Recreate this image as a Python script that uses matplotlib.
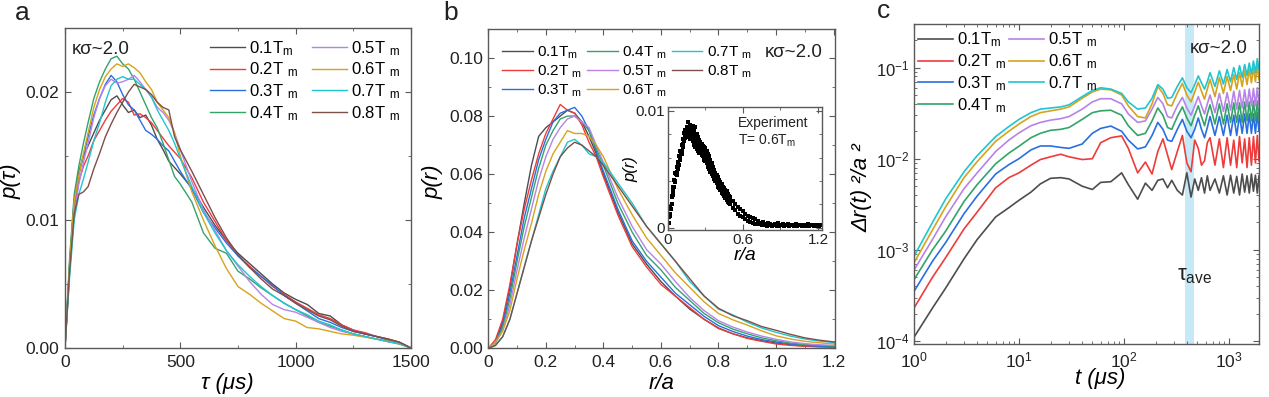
import numpy as np
import matplotlib
matplotlib.use("Agg")
import matplotlib.pyplot as plt
from matplotlib.ticker import MultipleLocator, LogLocator, NullFormatter

# ------------------------------ Config ------------------------------

plt.rcParams.update({
    "font.family": ["Liberation Sans", "DejaVu Sans"],
    "font.size": 12,
    "mathtext.fontset": "custom",
    "mathtext.rm": "Liberation Sans",
    "mathtext.it": "Liberation Sans:italic",
    "mathtext.bf": "Liberation Sans:bold",
    "axes.edgecolor": "#5a5a5a",
    "axes.linewidth": 1.0,
    "xtick.direction": "in",
    "ytick.direction": "in",
    "xtick.top": True,
    "ytick.right": True,
    "xtick.major.size": 4,
    "ytick.major.size": 4,
    "xtick.minor.size": 2.5,
    "ytick.minor.size": 2.5,
    "xtick.color": "#5a5a5a",
    "ytick.color": "#5a5a5a",
    "xtick.labelcolor": "#222222",
    "ytick.labelcolor": "#222222",
    "xtick.labelsize": 12.5,
    "ytick.labelsize": 12.5,
    "xtick.major.pad": 5,
    "ytick.major.pad": 4,
})

COLORS = ["#4d4d4d", "#ee3b3b", "#2a6fe0", "#34a36a",
          "#b783e8", "#d6a31c", "#1fc6cf", "#7d4f49"]
TEMPS = ["0.1", "0.2", "0.3", "0.4", "0.5", "0.6", "0.7", "0.8"]
LABELS = ["0.1T$_\\mathrm{m}$"] + [t + "T $_\\mathrm{m}$" for t in TEMPS[1:]]

# --------------------- panel a: p(tau) ------------------------------

TAU = [0, 20, 40, 60, 80, 100, 125, 150, 175, 200, 225, 250, 275, 300, 325,
       350, 375, 400, 425, 450, 475, 500, 550, 600, 650, 700, 750, 800, 850,
       900, 950, 1000, 1050, 1100, 1150, 1200, 1250, 1300, 1350, 1400, 1450, 1500]

# values in units of 1e-3
PTAU_01 = [0, 6.5, 11.5, 13.8, 15.0, 15.8, 16.8, 17.8, 18.6, 19.4, 19.7, 19.0, 18.4, 18.6, 18.0,
           18.2, 17.4, 16.3, 15.5, 14.6, 14.1, 13.6, 12.5, 11.0, 9.6, 8.4, 7.4, 6.6, 5.8,
           5.0, 4.3, 3.8, 3.4, 2.7, 2.5, 1.8, 1.4, 1.1, 0.9, 0.7, 0.45, 0]
PTAU_02 = [0, 6.0, 10.8, 13.0, 14.2, 15.0, 16.2, 17.0, 17.8, 18.5, 19.0, 19.5, 19.2, 18.2, 18.3,
           18.0, 17.6, 17.0, 16.4, 15.8, 15.3, 14.8, 13.3, 11.4, 9.9, 8.4, 7.2, 6.4, 5.6,
           4.8, 4.2, 3.6, 3.1, 2.6, 2.3, 1.8, 1.4, 1.2, 0.9, 0.7, 0.45, 0]
PTAU_03 = [0, 6.5, 11.5, 13.5, 15.0, 16.5, 18.2, 19.5, 20.6, 21.3, 20.8, 19.8, 19.0, 18.6, 17.8,
           17.0, 16.7, 16.3, 15.8, 15.4, 14.6, 13.8, 12.4, 10.6, 9.4, 8.2, 7.2, 6.3, 5.6,
           4.9, 4.1, 3.5, 2.9, 2.3, 2.0, 1.6, 1.3, 1.1, 0.9, 0.6, 0.4, 0]
PTAU_04 = [0, 7.0, 12.0, 14.2, 16.0, 17.6, 19.5, 20.8, 21.8, 22.6, 22.8, 22.2, 21.8, 21.0, 20.0,
           19.0, 18.0, 17.2, 16.0, 14.7, 13.4, 12.8, 11.4, 9.0, 7.8, 7.4, 6.0, 5.4, 4.7,
           4.1, 3.5, 3.0, 2.5, 2.0, 1.7, 1.4, 1.1, 0.9, 0.7, 0.5, 0.3, 0]
PTAU_05 = [0, 6.0, 10.5, 12.8, 14.5, 16.0, 18.0, 19.5, 20.5, 21.0, 20.7, 20.8, 21.0, 21.3, 20.8,
           20.2, 19.6, 18.8, 18.4, 17.8, 16.8, 15.5, 13.0, 10.8, 9.2, 7.6, 6.4, 5.2, 4.2,
           3.4, 3.0, 2.8, 2.4, 2.0, 1.6, 1.3, 1.1, 0.9, 0.7, 0.5, 0.35, 0]
PTAU_06 = [0, 6.5, 11.5, 13.5, 15.2, 16.8, 18.8, 20.2, 21.2, 21.8, 22.2, 22.0, 22.2, 21.9, 21.5,
           20.8, 20.2, 19.2, 18.6, 18.0, 16.8, 15.0, 12.2, 10.0, 8.0, 6.2, 4.8, 4.2, 3.5,
           2.9, 2.3, 2.1, 1.6, 1.5, 1.3, 1.1, 1.0, 0.85, 0.7, 0.55, 0.35, 0]
PTAU_07 = [0, 5.5, 10.0, 12.0, 13.2, 14.5, 16.2, 17.6, 19.2, 20.5, 21.0, 21.2, 21.0, 21.0, 20.6,
           20.2, 19.6, 18.6, 17.8, 17.0, 16.0, 14.8, 12.6, 10.6, 9.0, 7.6, 6.5, 5.6, 4.8,
           4.1, 3.5, 3.0, 2.6, 2.1, 1.8, 1.4, 1.1, 0.9, 0.7, 0.5, 0.35, 0]
PTAU_08 = [0, 6.0, 10.5, 12.0, 12.2, 12.6, 14.0, 15.2, 16.5, 17.5, 18.4, 19.2, 20.0, 20.6, 20.4,
           20.2, 19.8, 19.2, 18.8, 18.6, 16.5, 15.5, 13.8, 12.0, 10.2, 8.6, 7.3, 6.3, 5.4,
           4.6, 4.1, 3.5, 3.0, 2.5, 2.2, 1.7, 1.3, 1.1, 0.9, 0.7, 0.45, 0]

# --------------------- panel b: p(r) --------------------------------

R = [0, 0.025, 0.05, 0.075, 0.1, 0.125, 0.15, 0.175, 0.2, 0.225, 0.25, 0.275, 0.3,
     0.325, 0.35, 0.375, 0.4, 0.45, 0.5, 0.55, 0.6, 0.65, 0.7, 0.75, 0.8, 0.85,
     0.9, 0.95, 1.0, 1.05, 1.1, 1.15, 1.2, 1.205]

PR_01 = [0, .002, .009, .021, .036, .050, .063, .073, .076, .078, .080, .082, .081,
         .078, .073, .067, .060, .047, .036, .029, .023, .018, .0135, .0100, .0070, .0050,
         .0036, .0026, .0018, .0012, .0008, .0006, .0005, .0005]
PR_02 = [0, .003, .010, .022, .036, .048, .058, .067, .074, .079, .084, .082, .081,
         .077, .071, .066, .059, .046, .035, .028, .022, .018, .014, .0100, .0068, .0050,
         .0034, .0024, .0015, .0010, .0007, .0005, .0004, .0004]
PR_03 = [0, .002, .008, .019, .032, .045, .055, .065, .072, .078, .081, .082, .083,
         .080, .075, .068, .061, .048, .037, .030, .0245, .019, .015, .011, .0078, .0058,
         .0042, .0030, .0022, .0015, .0010, .0007, .0005, .0005]
PR_04 = [0, .002, .007, .017, .030, .042, .052, .062, .070, .075, .079, .080, .080,
         .078, .075, .069, .063, .050, .040, .032, .027, .021, .0165, .012, .0088, .0066,
         .0050, .0036, .0026, .0018, .0013, .0010, .0008, .0008]
PR_05 = [0, .002, .006, .015, .027, .038, .048, .058, .066, .072, .076, .079, .080,
         .078, .076, .070, .064, .052, .042, .034, .029, .023, .0175, .013, .0095, .0073,
         .0056, .0042, .0031, .0022, .0016, .0012, .0010, .0010]
PR_06 = [0, .002, .006, .013, .024, .034, .043, .053, .061, .067, .071, .075, .074,
         .074, .073, .070, .066, .055, .046, .038, .032, .026, .021, .016, .012, .0098,
         .0080, .0060, .0043, .0032, .0024, .0019, .0015, .0015]
PR_07 = [0, .001, .004, .010, .019, .028, .037, .046, .055, .061, .066, .071, .072,
         .070, .067, .066, .064, .057, .050, .042, .036, .030, .023, .018, .0135, .0115,
         .0090, .0070, .0055, .0042, .0032, .0025, .0020, .0020]
PR_08 = [0, .001, .004, .010, .019, .028, .037, .045, .053, .060, .066, .069, .071,
         .070, .068, .066, .063, .056, .049, .042, .036, .030, .024, .018, .0138, .0112,
         .0095, .0075, .0062, .0048, .0036, .0028, .0022, .0022]

# inset: experiment T = 0.6 Tm (upper and lower edge of the point cloud, plus middle)
EXP_R = [0.01, 0.02, 0.03, 0.04, 0.05, 0.06, 0.07, 0.08, 0.09, 0.10, 0.11, 0.12, 0.13,
         0.14, 0.15, 0.16, 0.17, 0.18, 0.19, 0.20, 0.21, 0.22, 0.23, 0.24, 0.25, 0.26,
         0.27, 0.28, 0.29, 0.30, 0.31, 0.32, 0.33, 0.34, 0.35, 0.36, 0.37, 0.38, 0.39,
         0.40, 0.41, 0.42, 0.43, 0.44, 0.45, 0.46, 0.47, 0.48, 0.49, 0.50, 0.52, 0.54,
         0.56, 0.58, 0.60, 0.62, 0.64, 0.66, 0.68, 0.70]
EXP_UP = [.0009, .0018, .0027, .0035, .0041, .0047, .0052, .0056, .0061, .0066, .0071, .0076, .0081,
          .0084, .0086, .0090, .0085, .0088, .0084, .0087, .0083, .0086, .0080, .0078, .0075, .0073,
          .0072, .0070, .0069, .0068, .0066, .0063, .0061, .0058, .0055, .0052, .0049, .0047, .0045,
          .0043, .0041, .0039, .0037, .0035, .0034, .0032, .0031, .0029, .0027, .0026, .0023, .0020,
          .0018, .0016, .0014, .0012, .0010, .0009, .0008, .0007]
EXP_LO = [.0004, .0012, .0020, .0028, .0035, .0040, .0045, .0050, .0054, .0058, .0063, .0069, .0074,
          .0077, .0078, .0080, .0079, .0076, .0078, .0074, .0071, .0069, .0067, .0066, .0064, .0066,
          .0062, .0061, .0058, .0057, .0055, .0052, .0050, .0048, .0046, .0044, .0042, .0040, .0038,
          .0035, .0034, .0032, .0030, .0029, .0027, .0025, .0024, .0022, .0021, .0020, .0017, .0015,
          .0012, .0010, .0009, .0007, .0006, .0005, .0004, .0003]
EXP_R_MID = [0.015, 0.025, 0.035, 0.045, 0.055, 0.065, 0.075, 0.085, 0.095, 0.105, 0.115, 0.125,
             0.135, 0.145, 0.155, 0.165, 0.175, 0.185, 0.195, 0.205, 0.215, 0.225, 0.235, 0.245,
             0.255, 0.265, 0.275, 0.285, 0.295, 0.305, 0.315, 0.325, 0.335, 0.345, 0.355, 0.365,
             0.375, 0.385, 0.395, 0.405, 0.415, 0.425, 0.435, 0.445, 0.455, 0.465, 0.475, 0.485, 0.495]
EXP_MID = [.0010, .0016, .0026, .0031, .0039, .0046, .0048, .0055, .0060, .0064, .0066, .0072,
           .0079, .0081, .0083, .0084, .0082, .0081, .0080, .0079, .0077, .0075, .0073, .0071,
           .0070, .0069, .0067, .0065, .0063, .0062, .0059, .0057, .0054, .0051, .0049, .0047,
           .0045, .0043, .0040, .0038, .0036, .0035, .0033, .0032, .0030, .0028, .0027, .0025, .0023]
EXP_R_TAIL = [0.72, 0.73, 0.74, 0.75, 0.76, 0.77, 0.78, 0.79, 0.80, 0.81, 0.82, 0.83, 0.84, 0.85,
              0.86, 0.87, 0.88, 0.89, 0.90, 0.91, 0.92, 0.93, 0.94, 0.95, 0.96, 0.97, 0.98, 0.99,
              1.00, 1.01, 1.02, 1.03, 1.04, 1.05, 1.06, 1.07, 1.08, 1.09, 1.10, 1.11, 1.12, 1.13,
              1.14, 1.15, 1.16, 1.17, 1.18, 1.19, 1.20, 1.21, 1.22]
EXP_TAIL = [.0006, .0003, .0004, .0002, .0005, .0002, .0003, .0001, .0004, .0002, .0003, .0001,
            .0002, .0002, .0003, .0001, .0004, .0001, .0002, .0002, .0003, .0001, .0002, .0002,
            .0003, .0001, .0002, .0002, .0002, .0001, .0003, .0001, .0002, .0002, .0002, .0001,
            .0001, .0002, .0002, .0001, .0003, .0001, .0002, .0002, .0002, .0001, .0001, .0002,
            .0002, .0001, .0002]

# --------------------- panel c: MSD ---------------------------------

T_C = [1, 1.5, 2, 3, 4, 6, 8, 10, 13, 16, 20, 25, 30, 40, 50, 60, 75,
       95, 110, 135, 160, 185, 210, 235, 260, 285, 322, 360, 397, 435, 472, 510,
       547, 585, 622, 660, 735, 810, 885, 960, 1035, 1110, 1185, 1260, 1335, 1410,
       1485, 1560, 1635, 1710, 1785, 1860, 1930]

MSD_01 = [1.1e-4, 2.3e-4, 3.8e-4, 8.0e-4, 1.3e-3, 2.3e-3, 2.9e-3, 3.5e-3, 4.3e-3, 5.3e-3, 6.1e-3,
          6.2e-3, 6.0e-3, 5.0e-3, 4.6e-3, 5.5e-3, 5.6e-3,
          .0070, .0052, .0036, .0054, .0045, .0058, .0060, .0048, .0058, .0045, .0040, .0070,
          .0038, .0060, .0045, .0062, .0042, .0065, .0045, .0060, .0042, .0065, .0040, .0066,
          .0042, .0064, .0040, .0068, .0043, .0065, .0042, .0068, .0044, .0066, .0042, .0065]
MSD_02 = [2.3e-4, 5.0e-4, 8.2e-4, 1.7e-3, 2.6e-3, 4.8e-3, 6.2e-3, 7.0e-3, 8.5e-3, 9.8e-3, .0105,
          .0112, .0105, .0098, .0100, .0150, .0170,
          .0178, .013, .0070, .0092, .0068, .0120, .0165, .0110, .0076, .0120, .0180, .0090,
          .0072, .0160, .0130, .0085, .0095, .0150, .0170, .0085, .0165, .0080, .0170, .0085,
          .0160, .0080, .0175, .0090, .0165, .0080, .0170, .0085, .0175, .0090, .0180, .0095]
MSD_03 = [3.5e-4, 7.5e-4, 1.2e-3, 2.5e-3, 3.9e-3, 6.8e-3, 8.6e-3, .0100, .0125, .0138, .0138,
          .0133, .0130, .0145, .019, .0215, .0228,
          .020, .016, .0128, .0135, .018, .025, .021, .016, .0155, .021, .027, .020,
          .017, .021, .028, .021, .017, .022, .029, .018, .029, .018, .030, .018,
          .030, .018, .030, .019, .031, .019, .031, .019, .031, .019, .032, .020]
MSD_04 = [4.7e-4, 1.0e-3, 1.6e-3, 3.4e-3, 5.2e-3, 8.8e-3, .0115, .0137, .017, .019, .0205,
          .021, .022, .027, .032, .0335, .034,
          .030, .023, .018, .019, .026, .036, .030, .022, .021, .029, .037, .028,
          .023, .030, .038, .029, .023, .031, .039, .024, .040, .024, .040, .025,
          .041, .025, .041, .025, .042, .026, .042, .026, .043, .026, .043, .027]
MSD_05 = [6.0e-4, 1.3e-3, 2.3e-3, 4.7e-3, 7.0e-3, .012, .016, .0192, .023, .025, .0265,
          .0275, .029, .035, .042, .0455, .0455,
          .040, .031, .025, .026, .035, .047, .040, .029, .028, .038, .047, .036,
          .030, .038, .048, .038, .031, .040, .050, .032, .052, .033, .053, .034,
          .055, .035, .056, .036, .057, .037, .058, .038, .059, .038, .060, .039]
MSD_06 = [7.2e-4, 1.65e-3, 2.95e-3, 6.2e-3, 9.3e-3, .0155, .020, .024, .029, .032, .0335,
          .035, .037, .046, .054, .058, .057,
          .050, .038, .029, .028, .040, .062, .052, .039, .038, .052, .067, .050,
          .042, .054, .069, .055, .045, .058, .074, .048, .078, .052, .080, .056,
          .084, .058, .088, .062, .092, .065, .096, .068, .100, .070, .105, .074]
MSD_07 = [8.5e-4, 2.0e-3, 3.6e-3, 7.2e-3, .0108, .0175, .0225, .027, .032, .035, .036,
          .037, .039, .048, .056, .060, .058,
          .052, .042, .035, .036, .046, .065, .058, .046, .047, .062, .077, .060,
          .053, .065, .081, .068, .058, .070, .088, .062, .092, .066, .095, .070,
          .100, .074, .105, .078, .108, .082, .112, .085, .118, .088, .125, .095]

TAU_AVE_BAND = (380, 460)

# ------------------------------ Figure ------------------------------

fig = plt.figure(figsize=(12.69, 3.97), dpi=100)
ax_a = fig.add_axes([0.0512, 0.1234, 0.2727, 0.806])
ax_b = fig.add_axes([0.3848, 0.1227, 0.2732, 0.8043])
ax_c = fig.add_axes([0.7202, 0.1335, 0.2719, 0.806])
ax_in = fig.add_axes([0.5262, 0.4207, 0.1214, 0.309])

LW = 1.0

# panel a
for ys, c, lab in zip([PTAU_01, PTAU_02, PTAU_03, PTAU_04, PTAU_05, PTAU_06, PTAU_07, PTAU_08],
                      COLORS, LABELS):
    ax_a.plot(TAU, np.array(ys) * 1e-3, color=c, lw=LW, label=lab)
ax_a.set_xlim(0, 1500)
ax_a.set_ylim(0, 0.025)
ax_a.xaxis.set_major_locator(MultipleLocator(500))
ax_a.xaxis.set_minor_locator(MultipleLocator(250))
ax_a.yaxis.set_major_locator(MultipleLocator(0.01))
ax_a.yaxis.set_minor_locator(MultipleLocator(0.005))
ax_a.set_yticks([0, 0.01, 0.02])
ax_a.set_yticklabels(["0.00", "0.01", "0.02"])
ax_a.set_xlabel("τ (μs)", fontsize=16, style="italic")
ax_a.set_ylabel("p(τ)", fontsize=16, style="italic")
ax_a.yaxis.set_label_coords(-0.124, 0.52)
ax_a.xaxis.set_label_coords(0.47, -0.078)
ax_a.text(0.02, 0.92, "κσ~2.0", transform=ax_a.transAxes, fontsize=13.5, color="#222222")
ax_a.legend(ncol=2, loc="upper left", bbox_to_anchor=(0.42, 0.966), frameon=False,
            fontsize=12, handlelength=2.1, handletextpad=0.25, columnspacing=0.8,
            labelspacing=0.18, borderpad=0, borderaxespad=0)

# panel b
for ys, c, lab in zip([PR_01, PR_02, PR_03, PR_04, PR_05, PR_06, PR_07, PR_08], COLORS, LABELS):
    ax_b.plot(R, ys, color=c, lw=LW, label=lab)
ax_b.set_xlim(0, 1.205)
ax_b.set_ylim(0, 0.11)
ax_b.xaxis.set_major_locator(MultipleLocator(0.2))
ax_b.xaxis.set_minor_locator(MultipleLocator(0.1))
ax_b.yaxis.set_major_locator(MultipleLocator(0.02))
ax_b.yaxis.set_minor_locator(MultipleLocator(0.01))
ax_b.set_xticks([0, 0.2, 0.4, 0.6, 0.8, 1.0, 1.2])
ax_b.set_xticklabels(["0", "0.2", "0.4", "0.6", "0.8", "1.0", "1.2"])
ax_b.set_yticks([0, 0.02, 0.04, 0.06, 0.08, 0.10])
ax_b.set_yticklabels(["0.00", "0.02", "0.04", "0.06", "0.08", "0.10"])
ax_b.set_xlabel("r/a", fontsize=16, style="italic")
ax_b.set_ylabel("p(r)", fontsize=16, style="italic")
ax_b.yaxis.set_label_coords(-0.128, 0.52)
ax_b.xaxis.set_label_coords(0.5, -0.077)
ax_b.text(0.965, 0.912, "κσ~2.0", transform=ax_b.transAxes, fontsize=13.5, ha="right",
          color="#222222")
ax_b.legend(ncol=3, loc="upper left", bbox_to_anchor=(0.04, 0.952), frameon=False,
            fontsize=11, handlelength=2.0, handletextpad=0.3, columnspacing=0.3,
            labelspacing=0.18, borderpad=0, borderaxespad=0)

# inset
ax_in.plot(EXP_R, EXP_UP, "s", color="black", ms=2.6, mew=0)
ax_in.plot(EXP_R, EXP_LO, "s", color="black", ms=2.6, mew=0)
ax_in.plot(EXP_R_MID, EXP_MID, "s", color="black", ms=2.6, mew=0)
ax_in.plot(EXP_R_TAIL, EXP_TAIL, "s", color="black", ms=2.6, mew=0)
ax_in.set_xlim(0, 1.23)
ax_in.set_ylim(-0.0002, 0.0103)
ax_in.set_xticks([0, 0.6, 1.2])
ax_in.set_xticklabels(["0", "0.6", "1.2"])
ax_in.xaxis.set_minor_locator(MultipleLocator(0.3))
ax_in.set_yticks([0, 0.01])
ax_in.set_yticklabels(["0", "0.01"])
ax_in.yaxis.set_minor_locator(MultipleLocator(0.002))
ax_in.tick_params(labelsize=11, pad=2)
ax_in.set_xlabel("r/a", fontsize=14, style="italic", labelpad=0)
ax_in.set_ylabel("p(r)", fontsize=12, style="italic", labelpad=-2)
ax_in.text(0.455, 0.93, "Experiment\nT= 0.6T$_\\mathrm{m}$", transform=ax_in.transAxes,
           fontsize=10, va="top", linespacing=1.2, color="#222222")

# panel c
ax_c.axvspan(*TAU_AVE_BAND, color="#c6e9f7", lw=0, zorder=0)
for ys, c, lab in zip([MSD_01, MSD_02, MSD_03, MSD_04, MSD_05, MSD_06, MSD_07],
                      COLORS[:7], LABELS[:7]):
    ax_c.plot(T_C, ys, color=c, lw=1.2, label=lab)
ax_c.set_xscale("log")
ax_c.set_yscale("log")
ax_c.set_xlim(1, 1930)
ax_c.set_ylim(9.3e-5, 0.3)
ax_c.xaxis.set_major_locator(LogLocator(base=10, numticks=10))
ax_c.xaxis.set_minor_locator(LogLocator(base=10, subs=np.arange(2, 10), numticks=10))
ax_c.xaxis.set_minor_formatter(NullFormatter())
ax_c.yaxis.set_major_locator(LogLocator(base=10, numticks=10))
ax_c.yaxis.set_minor_locator(LogLocator(base=10, subs=np.arange(2, 10), numticks=10))
ax_c.yaxis.set_minor_formatter(NullFormatter())
ax_c.tick_params(axis="y", labelsize=12, pad=3)
ax_c.set_xlabel("t (μs)", fontsize=16, style="italic")
ax_c.set_ylabel("Δr(t) ²/a ²", fontsize=16, style="italic")
ax_c.yaxis.set_label_coords(-0.12, 0.49)
ax_c.xaxis.set_label_coords(0.54, -0.075)
ax_c.text(0.80, 0.909, "κσ~2.0", transform=ax_c.transAxes, fontsize=13.5, color="#222222")
ax_c.text(320, 5.2e-4, "τ$_\\mathrm{ave}$", fontsize=16, va="center", color="#222222")
ax_c.legend(ncol=2, loc="upper left", bbox_to_anchor=(0.012, 0.979), frameon=False,
            fontsize=12, handlelength=2.1, handletextpad=0.25, columnspacing=0.15,
            labelspacing=0.18, borderpad=0, borderaxespad=0)

# panel letters
fig.text(15 / 1269, 1 - 20 / 397, "a", fontsize=19, va="baseline", color="#222222")
fig.text(443 / 1269, 1 - 20 / 397, "b", fontsize=19, va="baseline", color="#222222")
fig.text(877 / 1269, 1 - 18 / 397, "c", fontsize=19, va="baseline", color="#222222")

fig.savefig("out.png", dpi=100)
